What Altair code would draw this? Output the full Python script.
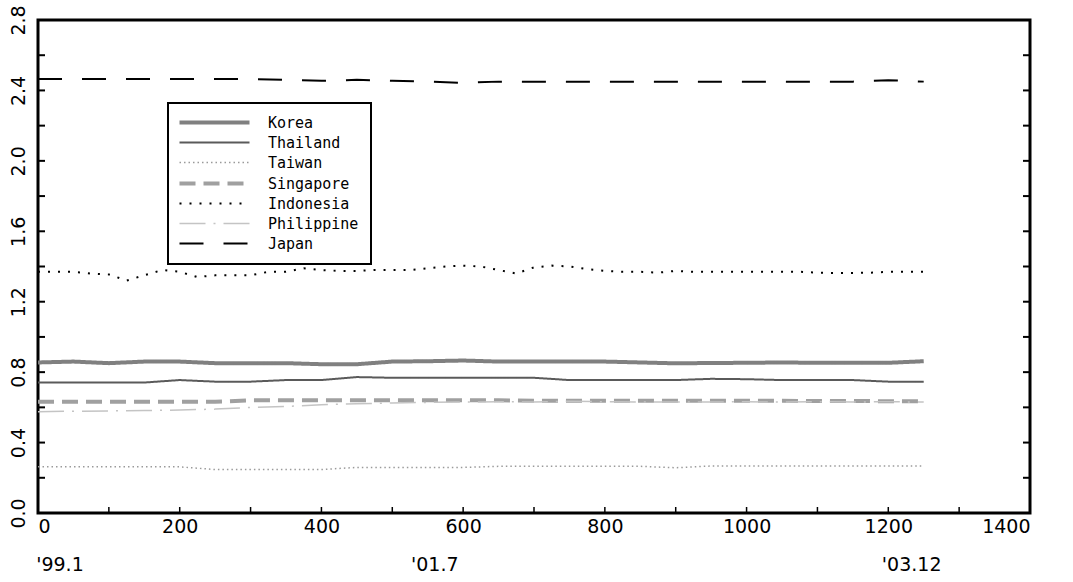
import altair as alt
import pandas as pd

# ---------------- data ----------------
series_names = ["Korea", "Thailand", "Taiwan", "Singapore", "Indonesia", "Philippine", "Japan"]

days_50 = [0, 50, 100, 150, 200, 250, 300, 350, 400, 450, 500, 550, 600,
           650, 700, 750, 800, 850, 900, 950, 1000, 1050, 1100, 1150, 1200, 1250]
days_25 = [0, 25, 50, 75, 100, 125, 150, 175, 200, 225, 250, 275, 300, 325, 350,
           375, 400, 425, 450, 475, 500, 525, 550, 575, 600, 625, 650, 675, 700,
           725, 750, 775, 800, 825, 850, 875, 900, 925, 950, 975, 1000, 1025, 1050,
           1075, 1100, 1125, 1150, 1175, 1200, 1225, 1250]

korea = [0.855, 0.86, 0.851, 0.86, 0.86, 0.851, 0.851, 0.851, 0.845, 0.845, 0.86, 0.862, 0.866,
         0.86, 0.86, 0.86, 0.86, 0.855, 0.85, 0.852, 0.853, 0.855, 0.853, 0.853, 0.853, 0.862]
thailand = [0.741, 0.741, 0.741, 0.741, 0.755, 0.746, 0.746, 0.755, 0.755, 0.772, 0.768, 0.768, 0.768,
            0.768, 0.768, 0.755, 0.755, 0.755, 0.755, 0.762, 0.760, 0.755, 0.755, 0.755, 0.746, 0.746]
taiwan = [0.262, 0.262, 0.262, 0.262, 0.262, 0.247, 0.247, 0.247, 0.247, 0.259, 0.259, 0.259, 0.259,
          0.265, 0.265, 0.265, 0.265, 0.265, 0.257, 0.267, 0.267, 0.267, 0.267, 0.267, 0.267, 0.267]
singapore = [0.632, 0.632, 0.632, 0.632, 0.632, 0.632, 0.640, 0.640, 0.640, 0.640, 0.640, 0.640, 0.640,
             0.640, 0.637, 0.637, 0.637, 0.637, 0.637, 0.637, 0.637, 0.637, 0.636, 0.636, 0.635, 0.635]
philippine = [0.575, 0.578, 0.580, 0.582, 0.585, 0.590, 0.600, 0.605, 0.615, 0.620, 0.625, 0.628, 0.630,
              0.632, 0.630, 0.635, 0.632, 0.630, 0.630, 0.630, 0.632, 0.630, 0.632, 0.630, 0.632, 0.630]
japan = [2.465, 2.465, 2.465, 2.465, 2.465, 2.465, 2.465, 2.460, 2.455, 2.460, 2.455, 2.450, 2.443,
         2.450, 2.450, 2.450, 2.450, 2.450, 2.450, 2.450, 2.450, 2.450, 2.450, 2.450, 2.458, 2.450]
indonesia = [1.37, 1.37, 1.37, 1.36, 1.355, 1.32, 1.35, 1.38, 1.37, 1.34, 1.35, 1.35, 1.35,
             1.37, 1.37, 1.39, 1.38, 1.375, 1.375, 1.38, 1.38, 1.38, 1.39, 1.40, 1.405, 1.40,
             1.38, 1.36, 1.395, 1.405, 1.40, 1.385, 1.375, 1.37, 1.37, 1.365, 1.375, 1.37,
             1.37, 1.37, 1.37, 1.37, 1.37, 1.37, 1.365, 1.363, 1.363, 1.365, 1.37, 1.37, 1.37]

x_tick_labels = [0, 200, 400, 600, 800, 1000, 1200, 1400]
x_minor_ticks = [0, 100, 200, 300, 400, 500, 600, 700, 800, 900, 1000, 1100, 1200, 1300, 1400]
y_tick_labels = [0.0, 0.4, 0.8, 1.2, 1.6, 2.0, 2.4, 2.8]
y_minor_ticks = [0.0, 0.2, 0.4, 0.6, 0.8, 1.0, 1.2, 1.4, 1.6, 1.8, 2.0, 2.2, 2.4, 2.6, 2.8]
date_labels = ["'99.1", "'01.7", "'03.12"]
date_days = [31, 560, 1233]

# ---------------- styles ----------------
colors = ["#808080", "#5a5a5a", "#9a9a9a", "#a0a0a0", "#000000", "#c4c4c4", "#000000"]
dashes = [[1, 0], [1, 0], [1.5, 3], [16, 8], [2, 8], [26, 8, 2, 8], [24, 20]]
widths = [4, 2, 1.5, 4, 2, 1.5, 2]

values_by_name = {"Korea": korea, "Thailand": thailand, "Taiwan": taiwan,
                  "Singapore": singapore, "Philippine": philippine, "Japan": japan}
rows = []
for name in series_names:
    if name == "Indonesia":
        for d, v in zip(days_25, indonesia):
            rows.append({"day": d, "value": v, "country": name})
    else:
        for d, v in zip(days_50, values_by_name[name]):
            rows.append({"day": d, "value": v, "country": name})
df = pd.DataFrame(rows)

W, H = 992, 493
FONT = "DejaVu Sans"

xscale = alt.Scale(domain=[0, 1400], nice=False)
yscale = alt.Scale(domain=[0, 2.8], nice=False)

xaxis = alt.Axis(values=x_tick_labels, format="d", title=None, grid=False,
                 ticks=False, domain=False, labelPadding=4,
                 labelFont=FONT, labelFontSize=19, labelColor="black")
yaxis = alt.Axis(values=y_tick_labels, format=".1f", title=None, grid=False,
                 ticks=False, domain=False, labelAngle=270, labelAlign="center",
                 labelBaseline="bottom", labelPadding=10,
                 labelFont=FONT, labelFontSize=19, labelColor="black")

legend = alt.Legend(
    title=None, orient="none", legendX=130, legendY=83,
    symbolType="M-7,0H7", symbolSize=100, symbolOffset=27, labelOffset=46,
    labelFont="DejaVu Sans Mono", labelFontSize=15, labelColor="black",
    strokeColor="black", fillColor="white", padding=12, rowPadding=4,
    labelLimit=300,
)

lines = alt.Chart(df).mark_line(strokeCap="butt", clip=True).encode(
    x=alt.X("day:Q", scale=xscale, axis=xaxis),
    y=alt.Y("value:Q", scale=yscale, axis=yaxis),
    color=alt.Color("country:N", scale=alt.Scale(domain=series_names, range=colors), legend=legend),
    strokeDash=alt.StrokeDash("country:N", scale=alt.Scale(domain=series_names, range=dashes), legend=legend),
    strokeWidth=alt.StrokeWidth("country:N", scale=alt.Scale(type="ordinal", domain=series_names, range=widths), legend=legend),
    order="day:Q",
)

ydf = pd.DataFrame({"value": y_minor_ticks})
xdf = pd.DataFrame({"day": x_minor_ticks})

lticks = alt.Chart(ydf).mark_rule(color="black", strokeWidth=2).encode(
    y=alt.Y("value:Q", scale=yscale, axis=yaxis), x=alt.value(0), x2=alt.value(7))
rticks = alt.Chart(ydf).mark_rule(color="black", strokeWidth=2).encode(
    y=alt.Y("value:Q", scale=yscale, axis=yaxis), x=alt.value(W - 7), x2=alt.value(W))
bticks = alt.Chart(xdf).mark_rule(color="black", strokeWidth=1.5).encode(
    x=alt.X("day:Q", scale=xscale, axis=xaxis), y=alt.value(H), y2=alt.value(H - 6))

ddf = pd.DataFrame({"day": date_days, "label": date_labels})
dates = alt.Chart(ddf).mark_text(font=FONT, fontSize=19, color="black",
                                 align="center", baseline="middle").encode(
    x=alt.X("day:Q", scale=xscale, axis=xaxis), y=alt.value(H + 52), text="label:N")

chart = alt.layer(lines, lticks, rticks, bticks, dates).properties(
    width=W, height=H,
    autosize=alt.AutoSizeParams(type="none"),
    padding={"left": 38, "top": 20, "right": 43, "bottom": 69},
).configure_view(stroke="black", strokeWidth=3).configure_legend(strokeWidth=2)

chart.save("out.html", embed_options={"renderer": "svg", "actions": False})
